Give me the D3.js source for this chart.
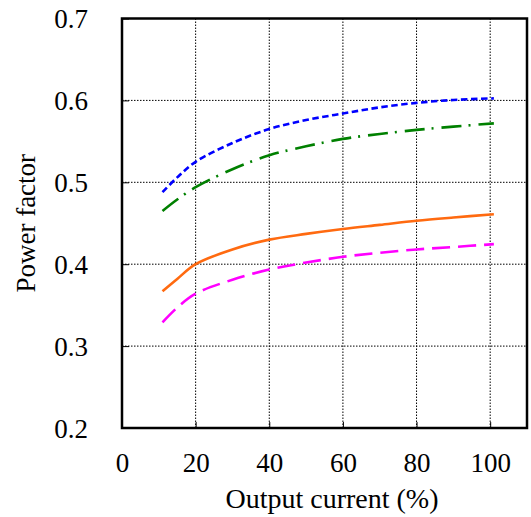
<!DOCTYPE html>
<html>
<head>
<meta charset="utf-8">
<script src="https://cdn.jsdelivr.net/npm/d3@7"></script>
<style>
  body { margin: 0; background: #fff; }
  text { font-family: "Liberation Serif", "Times New Roman", serif; fill: #000; }
</style>
</head>
<body>
<div id="chart"></div>
<script>
// data
var current = [11, 15, 20, 30, 40, 50, 60, 70, 80, 90, 101];
var pfBlue    = [0.488, 0.506, 0.525, 0.548, 0.565, 0.576, 0.584, 0.5915, 0.597, 0.6005, 0.6025];
var pfGreen   = [0.465, 0.479, 0.494, 0.516, 0.533, 0.544, 0.553, 0.559, 0.564, 0.568, 0.572];
var pfOrange  = [0.367, 0.382, 0.400, 0.418, 0.430, 0.437, 0.443, 0.448, 0.453, 0.457, 0.461];
var pfMagenta = [0.329, 0.347, 0.364, 0.381, 0.3935, 0.402, 0.409, 0.414, 0.418, 0.421, 0.4245];
var xTicks = [0, 20, 40, 60, 80, 100];
var yTicks = [0.2, 0.3, 0.4, 0.5, 0.6, 0.7];

var series = [
  {vals: pfBlue, color: "#0000ff", dash: "6.5,3.5"},
  {vals: pfGreen, color: "#008000", dash: "20,7,2,8"},
  {vals: pfOrange, color: "#ff6a10", dash: null},
  {vals: pfMagenta, color: "#ff00ff", dash: "18,8"}
];

var W = 531, H = 517;
var pLeft = 122, pRight = 527, pTop = 18.5, pBottom = 428;

var svg = d3.select("#chart").append("svg")
    .attr("width", W)
    .attr("height", H);

var x = d3.scaleLinear().domain([0, 110]).range([pLeft, pRight]);
var y = d3.scaleLinear().domain([0.2, 0.7]).range([pBottom, pTop]);

// grid
svg.append("g")
  .selectAll("line")
  .data(xTicks.slice(1))
  .enter().append("line")
  .attr("x1", d => x(d)).attr("x2", d => x(d))
  .attr("y1", pTop).attr("y2", pBottom)
  .attr("stroke", "#000").attr("stroke-width", 1)
  .attr("stroke-dasharray", "1.5,1.5");

svg.append("g")
  .selectAll("line")
  .data(yTicks.slice(1, -1))
  .enter().append("line")
  .attr("x1", pLeft).attr("x2", pRight)
  .attr("y1", d => y(d)).attr("y2", d => y(d))
  .attr("stroke", "#000").attr("stroke-width", 1)
  .attr("stroke-dasharray", "1.5,1.5");

// axes (inward ticks)
var gx = svg.append("g")
  .attr("transform", "translate(0," + pBottom + ")")
  .call(d3.axisBottom(x).tickValues(xTicks).tickSize(-6).tickSizeOuter(0).tickPadding(25));
var gy = svg.append("g")
  .attr("transform", "translate(" + pLeft + ",0)")
  .call(d3.axisLeft(y).tickValues(yTicks).tickSize(-7).tickSizeOuter(0).tickPadding(34)
        .tickFormat(d3.format(".1f")));
[gx, gy].forEach(function(g) {
  g.attr("font-family", null);
  g.select(".domain").remove();
  g.selectAll(".tick line").attr("stroke", "#000").attr("stroke-width", 1);
  g.selectAll("text").attr("font-size", 27).style("font-family", '"Liberation Serif", serif');
});
gy.selectAll("text").attr("dy", "0.34em");

// curves
var line = d3.line()
  .x((d, i) => x(current[i]))
  .y(d => y(d))
  .curve(d3.curveCatmullRom.alpha(0.5));

svg.append("g")
  .selectAll("path")
  .data(series)
  .enter().append("path")
  .attr("d", d => line(d.vals))
  .attr("fill", "none")
  .attr("stroke", d => d.color)
  .attr("stroke-width", 2.6)
  .attr("stroke-dasharray", d => d.dash);

// frame
svg.append("rect")
  .attr("x", pLeft).attr("y", pTop)
  .attr("width", pRight - pLeft).attr("height", pBottom - pTop)
  .attr("fill", "none")
  .attr("stroke", "#000")
  .attr("stroke-width", 2.5);

// titles
svg.append("text")
  .attr("x", 332).attr("y", 508)
  .attr("text-anchor", "middle")
  .attr("font-size", 28)
  .text("Output current (%)");

svg.append("text")
  .attr("transform", "translate(35," + ((pTop + pBottom) / 2) + ") rotate(-90)")
  .attr("text-anchor", "middle")
  .attr("font-size", 27)
  .text("Power factor");
</script>
</body>
</html>
